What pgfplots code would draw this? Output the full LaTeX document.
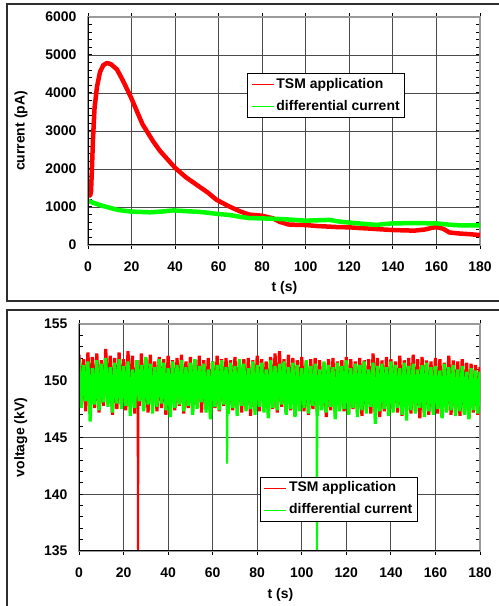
\documentclass[border=0pt]{standalone}
\usepackage{fontspec}
\setmainfont{Liberation Sans}
\usepackage{pgfplots}
\pgfplotsset{compat=1.18}
\definecolor{gridc}{HTML}{4A4A4A}
\definecolor{boxc}{HTML}{9A9A9A}
\definecolor{framec}{HTML}{2E2E2E}
\definecolor{pred}{HTML}{FF0000}
\definecolor{pgreen}{HTML}{00FF00}
\newcommand\lf{\fontsize{14}{16}\selectfont\bfseries}
\pgfplotsset{
  panel/.style={
    scale only axis,
    anchor=south west,
    xmin=0, xmax=180,
    xtick={0,20,...,180},
    grid=major,
    major grid style={draw=gridc, line width=0.9bp},
    axis line style={draw=boxc, line width=1.5bp},
    xtick align=outside, ytick align=inside,
    major tick length=4bp, minor tick length=4bp,
    every tick/.style={draw=black, line width=1bp},
    /pgf/number format/assume math mode=true,
    /pgf/number format/1000 sep={},
    ticklabel style={font=\lf},
    xticklabel style={yshift=-9bp},
    yticklabel style={xshift=-8bp},
    label style={font=\lf},
    legend cell align=left,
    legend style={draw=black, line width=1bp, fill=white,
      inner xsep=3bp, inner ysep=0bp, row sep=0pt, font=\lf,
      nodes={inner xsep=2bp, inner ysep=4.5bp, text height=10bp, text depth=3bp}},
    legend image code/.code={\draw[##1, line width=1.8bp] (0bp,0bp) -- (22bp,0bp);},
  }
}
\begin{document}
\begin{tikzpicture}
\useasboundingbox (0,0) rectangle (499bp,606bp);
% panel frames
\draw[framec, line width=1.8bp] (520bp,602bp) -- (7bp,602bp) -- (7bp,305bp) -- (520bp,305bp);
\draw[framec, line width=1.8bp] (520bp,296bp) -- (7bp,296bp) -- (7bp,-20bp);

% ---------------- top panel ----------------
\begin{axis}[panel,
  at={(88bp,361bp)}, width=392bp, height=228bp,
  ymin=0, ymax=6000, ytick={0,1000,...,6000}, minor y tick num=4,
  xlabel={t (s)}, xlabel style={at={(axis description cs:0.501,-0.186)}, anchor=center},
  ylabel={current (pA)}, ylabel style={at={(axis description cs:-0.171,0.5)}, anchor=center},
  legend style={at={(axis description cs:0.406,0.754)}, anchor=north west},
]
\addplot[pred, line width=4.5bp, line join=round] coordinates {
(0.2,1250)(0.6,1550)(1.0,1300)(1.4,1420)(1.8,2000)(2.3,2800)(3.0,3600)(4.1,4150)
(5.5,4550)(7,4730)(8.7,4790)(10.5,4760)(13.3,4620)(16,4330)(19.7,3890)(25,3180)
(30,2720)(33,2480)(40,2030)(45,1780)(51,1540)(55,1380)(59,1190)(65,1010)(70,880)
(74,800)(80,770)(85,700)(88,610)(92,540)(96,530)(100,525)(105,500)(110,485)
(115,470)(120,465)(125,445)(130,430)(135,410)(140,395)(145,385)(150,378)(155,410)
(158,455)(160,470)(163,430)(166,330)(170,305)(175,285)(180,262)
};
\addlegendentry{TSM application}
\addplot[pgreen, line width=4.5bp, line join=round] coordinates {
(0,1160)(3,1100)(6,1040)(10,980)(14,920)(19.7,880)(24,870)(28.5,860)(34,880)
(39,910)(45,890)(51.4,870)(55,850)(59,820)(65,790)(70,740)(74,710)(80,700)
(85,690)(89.6,680)(95,660)(99.7,640)(105,650)(111,660)(115,620)(120,590)
(126,560)(132.5,530)(136,550)(140,570)(150,575)(160,570)(165,540)(169,520)(180,515)
};
\addlegendentry{differential current}
\draw[black, line width=1.5bp] (rel axis cs:0,1) -- (rel axis cs:0,0) -- (rel axis cs:1,0);
\end{axis}

% ---------------- bottom panel ----------------
\begin{axis}[panel,
  at={(79bp,55bp)}, width=401bp, height=227bp,
  ymin=135, ymax=155, ytick={135,140,...,155}, minor y tick num=4,
  xlabel={t (s)}, xlabel style={at={(axis description cs:0.5025,-0.194)}, anchor=center},
  ylabel={voltage (kV)}, ylabel style={at={(axis description cs:-0.145,0.5)}, anchor=center},
  legend style={at={(axis description cs:0.451,0.326)}, anchor=north west},
]
\addplot[pred, line width=3.2bp] coordinates {
(0,152.3)(1,147.9)(2,151.9)(3,147.3)(4,152.5)(5,148.0)(6,152.1)(7,147.6)(8,152.4)(9,147.2)
(10,151.8)(11,147.8)(12,152.8)(13,148.1)(14,152.2)(15,147.0)(16,152.0)(17,147.5)(18,152.5)(19,147.9)
(20,151.9)(21,147.4)(22,152.6)(23,147.7)(24,152.2)(25,147.1)(26,151.8)(27,147.8)(28,152.4)(29,147.5)
(30,152.0)(31,147.2)(32,152.3)(33,147.9)(34,151.7)(35,147.3)(36,152.1)(37,147.6)(38,151.9)(39,147.0)
(40,152.2)(41,147.7)(42,151.8)(43,147.4)(44,152.0)(45,147.8)(46,152.3)(47,147.1)(48,151.7)(49,147.6)
(50,152.1)(51,147.3)(52,151.9)(53,147.9)(54,152.2)(55,147.2)(56,151.8)(57,147.5)(58,152.0)(59,147.0)
(60,151.7)(61,147.6)(62,152.2)(63,147.3)(64,151.9)(65,147.8)(66,152.0)(67,147.1)(68,151.8)(69,147.4)
(70,152.1)(71,147.7)(72,151.7)(73,147.2)(74,151.9)(75,147.5)(76,152.0)(77,146.9)(78,151.8)(79,147.6)
(80,152.2)(81,147.3)(82,151.9)(83,147.8)(84,151.7)(85,147.0)(86,152.1)(87,147.5)(88,152.4)(89,147.2)
(90,152.6)(91,147.7)(92,151.9)(93,147.1)(94,152.3)(95,147.4)(96,152.0)(97,146.9)(98,151.8)(99,147.6)
(100,152.1)(101,147.3)(102,151.7)(103,147.0)(104,151.9)(105,147.5)(106,152.0)(107,147.2)(108,151.8)(109,147.7)
(110,151.6)(111,146.8)(112,151.9)(113,147.4)(114,152.0)(115,147.1)(116,151.7)(117,147.6)(118,151.8)(119,147.3)
(120,152.1)(121,147.0)(122,151.9)(123,147.5)(124,151.7)(125,147.2)(126,152.0)(127,146.9)(128,151.8)(129,147.4)
(130,151.9)(131,147.1)(132,152.4)(133,147.6)(134,152.0)(135,146.8)(136,151.8)(137,147.3)(138,152.1)(139,147.0)
(140,151.9)(141,147.5)(142,151.7)(143,147.2)(144,152.2)(145,146.9)(146,151.8)(147,147.4)(148,152.0)(149,147.1)
(150,152.3)(151,147.3)(152,151.9)(153,146.7)(154,152.1)(155,147.2)(156,151.8)(157,147.0)(158,151.7)(159,147.4)
(160,152.0)(161,147.1)(162,151.9)(163,146.8)(164,151.6)(165,147.3)(166,152.2)(167,147.0)(168,151.8)(169,147.2)
(170,151.7)(171,146.9)(172,151.9)(173,147.1)(174,151.6)(175,146.7)(176,151.5)(177,147.2)(178,151.4)(179,147.0)(180,151.2)
};
\addlegendentry{TSM application}
\addplot[pred, line width=2bp, forget plot] coordinates {(26.3,148.5)(26.5,134)(26.7,148.5)};
\addplot[pgreen, line width=3.2bp] coordinates {
(0,151.9)(1,147.6)(2,151.4)(3,148.2)(4,151.7)(5,146.4)(6,151.1)(7,147.9)(8,151.8)(9,147.4)
(10,151.5)(11,148.1)(12,152.0)(13,147.7)(14,151.2)(15,147.2)(16,151.6)(17,148.0)(18,151.9)(19,147.5)
(20,151.3)(21,147.8)(22,151.7)(23,146.9)(24,151.0)(25,147.6)(26,151.8)(27,148.2)(28,151.4)(29,147.3)
(30,152.1)(31,147.9)(32,151.5)(33,147.1)(34,151.2)(35,147.7)(36,151.9)(37,148.0)(38,151.6)(39,147.4)
(40,151.1)(41,146.8)(42,151.7)(43,147.6)(44,151.4)(45,147.9)(46,151.8)(47,147.3)(48,151.2)(49,147.8)
(50,151.6)(51,147.0)(52,151.9)(53,147.5)(54,151.3)(55,148.1)(56,151.5)(57,147.2)(58,151.0)(59,146.6)
(60,151.7)(61,147.7)(62,151.4)(63,147.4)(64,151.8)(65,147.9)(66,151.2)(67,147.1)(68,151.6)(69,147.6)
(70,151.3)(71,146.9)(72,151.9)(73,147.8)(74,151.5)(75,147.3)(76,151.1)(77,147.5)(78,151.7)(79,147.0)
(80,151.4)(81,147.7)(82,151.6)(83,147.2)(84,151.0)(85,146.7)(86,151.8)(87,147.6)(88,151.3)(89,147.4)
(90,151.5)(91,147.9)(92,151.7)(93,147.0)(94,151.2)(95,147.5)(96,151.6)(97,146.8)(98,151.4)(99,147.3)
(100,151.1)(101,147.6)(102,151.8)(103,147.1)(104,151.3)(105,147.8)(106,151.5)(107,146.9)(108,151.0)(109,147.4)
(110,151.7)(111,147.2)(112,151.4)(113,147.7)(114,151.2)(115,146.6)(116,151.6)(117,147.3)(118,151.3)(119,147.5)
(120,151.8)(121,147.0)(122,151.1)(123,147.6)(124,151.5)(125,146.8)(126,151.4)(127,147.4)(128,151.7)(129,147.1)
(130,151.0)(131,147.7)(132,151.6)(133,146.2)(134,151.3)(135,147.3)(136,151.5)(137,147.5)(138,151.2)(139,146.9)
(140,151.7)(141,147.2)(142,151.4)(143,147.6)(144,151.1)(145,147.0)(146,151.6)(147,146.5)(148,151.3)(149,147.4)
(150,151.5)(151,147.1)(152,151.0)(153,147.6)(154,151.4)(155,146.8)(156,151.6)(157,147.3)(158,151.2)(159,147.0)
(160,151.3)(161,147.5)(162,150.9)(163,146.7)(164,151.5)(165,147.2)(166,151.2)(167,147.4)(168,151.4)(169,146.9)
(170,151.0)(171,147.3)(172,151.3)(173,147.0)(174,150.8)(175,146.6)(176,151.1)(177,147.4)(178,150.9)(179,147.1)(180,150.8)
};
\addlegendentry{differential current}
\addplot[pgreen, line width=2bp, forget plot] coordinates {(66.3,148)(66.5,142.7)(66.7,148)};
\addplot[pgreen, line width=2bp, forget plot] coordinates {(106.6,148)(106.8,134)(107.0,148)};
\draw[black, line width=1.5bp] (rel axis cs:0,1) -- (rel axis cs:0,0) -- (rel axis cs:1,0);
\end{axis}
\end{tikzpicture}
\end{document}
